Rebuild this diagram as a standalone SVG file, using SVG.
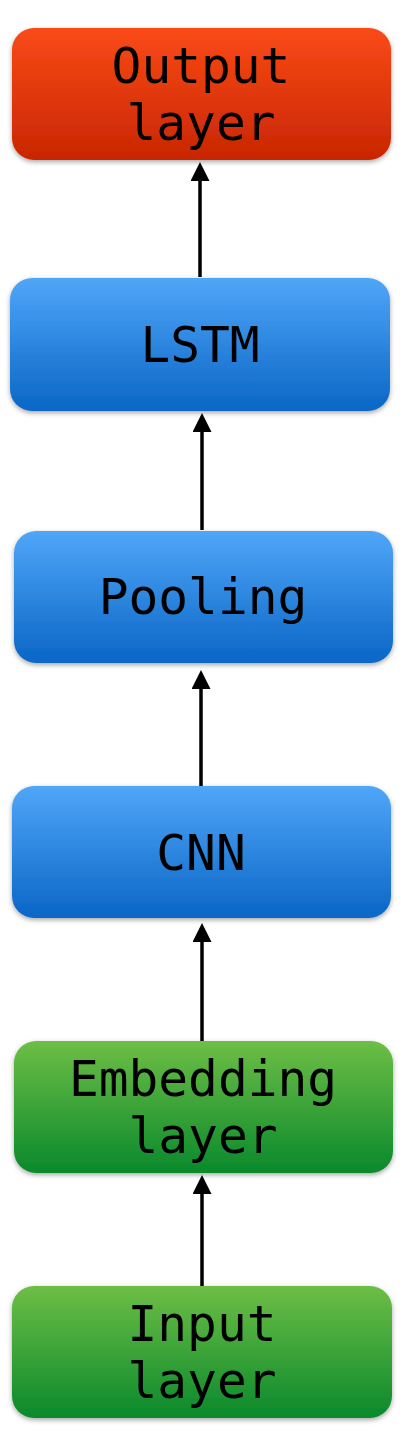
<svg xmlns="http://www.w3.org/2000/svg" width="405" height="1444" viewBox="0 0 405 1444">
<style>
.lbl{font-family:"DejaVu Sans Mono","Liberation Mono",monospace;font-size:49.5px;fill:#000;text-anchor:middle}
.edge{stroke:#000;stroke-width:3.5;fill:none;marker-end:url(#ah)}
</style>
<defs>
<linearGradient id="gOrange" x1="0" y1="0" x2="0" y2="1"><stop offset="0" stop-color="#fa4a16"/><stop offset="1" stop-color="#c82603"/></linearGradient>
<linearGradient id="gBlue" x1="0" y1="0" x2="0" y2="1"><stop offset="0" stop-color="#50a6f8"/><stop offset="1" stop-color="#0a66c6"/></linearGradient>
<linearGradient id="gGreen" x1="0" y1="0" x2="0" y2="1"><stop offset="0" stop-color="#6dbe45"/><stop offset="1" stop-color="#0a892c"/></linearGradient>
<filter id="sh" x="-10%" y="-10%" width="120%" height="130%"><feDropShadow dx="0" dy="2" stdDeviation="2.5" flood-color="#000" flood-opacity="0.35"/></filter>
<marker id="ah" markerUnits="userSpaceOnUse" viewBox="0 0 19 19" markerWidth="19" markerHeight="19" refX="0" refY="9.5" orient="auto"><path d="M0,0 L19,9.5 L0,19 z" fill="#000"/></marker>
</defs>
<g id="connectors">
<line class="edge" x1="200" y1="277" x2="200" y2="181"/>
<line class="edge" x1="202" y1="530" x2="202" y2="432"/>
<line class="edge" x1="201" y1="787" x2="201" y2="689"/>
<line class="edge" x1="202" y1="1041" x2="202" y2="942"/>
<line class="edge" x1="202" y1="1286" x2="202" y2="1194"/>
</g>
<g id="output">
<rect x="12" y="28" width="379" height="132" rx="22" fill="url(#gOrange)" filter="url(#sh)"/>
<text class="lbl" x="201" y="83">Output</text>
<text class="lbl" x="201" y="140">layer</text>
</g>
<g id="lstm">
<rect x="10" y="278" width="380" height="133" rx="22" fill="url(#gBlue)" filter="url(#sh)"/>
<text class="lbl" x="200" y="362">LSTM</text>
</g>
<g id="pooling">
<rect x="14" y="531" width="379" height="132" rx="22" fill="url(#gBlue)" filter="url(#sh)"/>
<text class="lbl" x="203" y="614">Pooling</text>
</g>
<g id="cnn">
<rect x="12" y="786" width="379" height="132" rx="22" fill="url(#gBlue)" filter="url(#sh)"/>
<text class="lbl" x="201" y="870">CNN</text>
</g>
<g id="embedding">
<rect x="14" y="1041" width="379" height="132" rx="22" fill="url(#gGreen)" filter="url(#sh)"/>
<text class="lbl" x="203" y="1096">Embedding</text>
<text class="lbl" x="203" y="1153">layer</text>
</g>
<g id="input">
<rect x="12" y="1286" width="380" height="132" rx="22" fill="url(#gGreen)" filter="url(#sh)"/>
<text class="lbl" x="202" y="1341">Input</text>
<text class="lbl" x="202" y="1398">layer</text>
</g>
</svg>
